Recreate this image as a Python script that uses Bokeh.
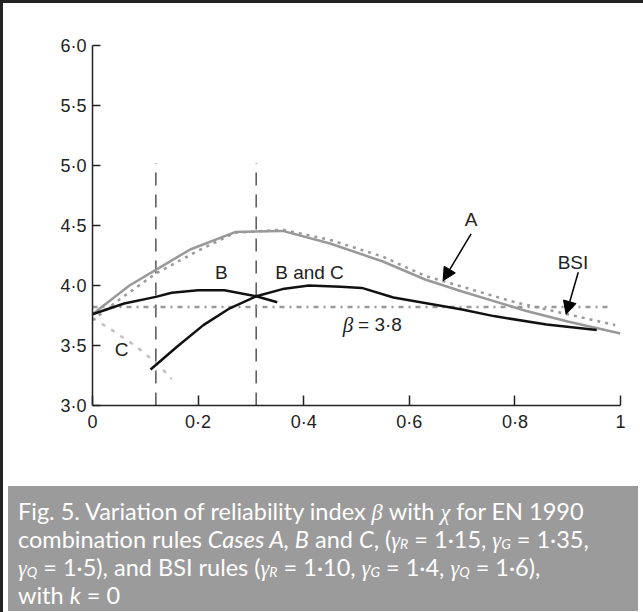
from bokeh.plotting import figure
from bokeh.models import (Range1d, FixedTicker, Label, Arrow, NormalHead, Div, InlineStyleSheet)
from bokeh.layouts import column
from bokeh.embed import file_html
from bokeh.resources import INLINE

# ---- data ----
a_x = [0, 0.07, 0.12, 0.185, 0.27, 0.36, 0.45, 0.55, 0.63, 0.7, 0.82, 0.9, 1.0]
a_y = [3.76, 4.0, 4.13, 4.30, 4.445, 4.455, 4.35, 4.2, 4.05, 3.95, 3.79, 3.70, 3.60]

bsi_x = [0, 0.05, 0.12, 0.2, 0.27, 0.36, 0.45, 0.55, 0.63, 0.7, 0.8, 0.9, 0.99]
bsi_y = [3.71, 3.88, 4.10, 4.29, 4.44, 4.465, 4.38, 4.24, 4.08, 3.99, 3.86, 3.76, 3.67]

b_x = [0, 0.06, 0.12, 0.15, 0.2, 0.25, 0.31, 0.35]
b_y = [3.76, 3.85, 3.905, 3.94, 3.96, 3.96, 3.91, 3.86]

bc_x = [0.11, 0.16, 0.21, 0.26, 0.31, 0.36, 0.41, 0.47, 0.51, 0.57, 0.635, 0.7, 0.76, 0.86, 0.955]
bc_y = [3.30, 3.49, 3.67, 3.81, 3.91, 3.97, 4.0, 3.99, 3.98, 3.90, 3.85, 3.80, 3.745, 3.675, 3.63]

c_x = [0, 0.04, 0.08, 0.12, 0.15]
c_y = [3.73, 3.62, 3.50, 3.36, 3.22]

target_x = [0, 0.98]
target_y = [3.82, 3.82]

limit_x = [0.12, 0.31]          # vertical dashed lines
limit_y = [3.0, 5.02]

x_ticks = [0, 0.2, 0.4, 0.6, 0.8, 1.0]
x_tick_labels = ["0", "0·2", "0·4", "0·6", "0·8", "1"]
y_ticks = [3.0, 3.5, 4.0, 4.5, 5.0, 5.5, 6.0]
y_tick_labels = ["3·0", "3·5", "4·0", "4·5", "5·0", "5·5", "6·0"]

TICK_FONT = "Liberation Sans"

p = figure(width=630, height=478, output_backend="svg", toolbar_location=None,
           x_range=Range1d(0, 1), y_range=Range1d(3, 6),
           min_border_left=89, min_border_right=13, min_border_top=42, min_border_bottom=76)
p.grid.visible = False
p.outline_line_color = None
p.background_fill_color = "white"
p.border_fill_color = "white"

for ax in (p.xaxis[0], p.yaxis[0]):
    ax.axis_line_color = "#222222"
    ax.axis_line_width = 1.5
    ax.major_tick_line_color = "#222222"
    ax.major_tick_line_width = 1.5
    ax.major_tick_out = 0
    ax.minor_tick_line_color = None
    ax.major_label_text_font = TICK_FONT
    ax.major_label_text_font_size = "18px"
    ax.major_label_text_color = "#222222"

p.xaxis.ticker = FixedTicker(ticks=x_ticks)
p.xaxis.major_label_overrides = {t: l for t, l in zip(x_ticks, x_tick_labels)}
p.xaxis.major_tick_in = 10
p.xaxis.major_label_standoff = 6
p.yaxis.ticker = FixedTicker(ticks=y_ticks)
p.yaxis.major_label_overrides = {t: l for t, l in zip(y_ticks, y_tick_labels)}
p.yaxis.major_tick_in = 8
p.yaxis.major_label_standoff = 6

# vertical dashed lines
for xv in limit_x:
    p.line([xv, xv], limit_y, line_color="#555555", line_width=1.5, line_dash="13 9")

# target beta line
p.line(target_x, target_y, line_color="#999999", line_width=2.5, line_dash="5 5 2 5")

# curves
p.line(c_x, c_y, line_color="#c0c0c0", line_width=2.5, line_dash="4 7")
p.line(a_x, a_y, line_color="#999999", line_width=2.5)
p.line(bsi_x, bsi_y, line_color="#999999", line_width=2.5, line_dash="3 5")
p.line(b_x, b_y, line_color="#111111", line_width=2.5)
p.line(bc_x, bc_y, line_color="#111111", line_width=2.5)

# arrows
p.add_layout(Arrow(end=NormalHead(size=13, fill_color="black", line_color="black"),
                   x_start=0.717, y_start=4.43, x_end=0.664, y_end=4.04,
                   line_color="black", line_width=1.5))
p.add_layout(Arrow(end=NormalHead(size=13, fill_color="black", line_color="black"),
                   x_start=0.92, y_start=4.11, x_end=0.897, y_end=3.76,
                   line_color="black", line_width=1.5))

def lab(x, y, t, size="19px", font=TICK_FONT, style="normal", align="center"):
    p.add_layout(Label(x=x, y=y, text=t, text_font=font, text_font_size=size,
                       text_font_style=style, text_align=align, text_baseline="middle",
                       text_color="#222222"))

lab(0.717, 4.55, "A")
lab(0.91, 4.19, "BSI")
lab(0.244, 4.11, "B")
lab(0.411, 4.11, "B and C")
lab(0.055, 3.465, "C")
lab(0.484, 3.675, "β", size="21px", font="Liberation Serif", style="italic")
lab(0.503, 3.675, "= 3·8", align="left")
lab(-0.111, 4.51, "β", size="21px", font="Liberation Serif", style="italic")
lab(0.497, 2.575, "χ", size="21px", font="Liberation Serif", style="italic")

M = '<span style="font-family:\'Liberation Serif\';font-style:italic;font-size:0.95em">{}</span>'
SUB = ('<span style="font-size:0.6em;font-style:italic;position:relative;top:0.1em;'
       'line-height:0">{}</span>')
g = lambda s: M.format("γ") + SUB.format(s)
caption_html = (
    '<div style="padding:12px 0 0 10px; line-height:26px; white-space:nowrap;">'
    'Fig. 5. Variation of reliability index ' + M.format("β") + ' with ' + M.format("χ") + ' for EN 1990<br>'
    'combination rules <i>Cases A, B</i> and <i>C</i>, (' + g("R") + ' = 1·15, ' + g("G") + ' = 1·35,<br>'
    + g("Q") + ' = 1·5), and BSI rules (' + g("R") + ' = 1·10, ' + g("G") + ' = 1·4, ' + g("Q") + ' = 1·6),<br>'
    'with <i>k</i> = 0</div>'
)
cap = Div(text=caption_html, width=630, height=125,
          styles={"background-color": "#9b9b9b", "color": "white",
                  "font-family": "Lato", "font-size": "23.5px", "overflow": "hidden"})

border_css = InlineStyleSheet(css=":host { border-left: 3px solid #222 !important; border-top: 3px solid #222 !important; }")
layout = column(p, cap, spacing=0, stylesheets=[border_css])

open("out.html", "w").write(file_html(layout, INLINE))
